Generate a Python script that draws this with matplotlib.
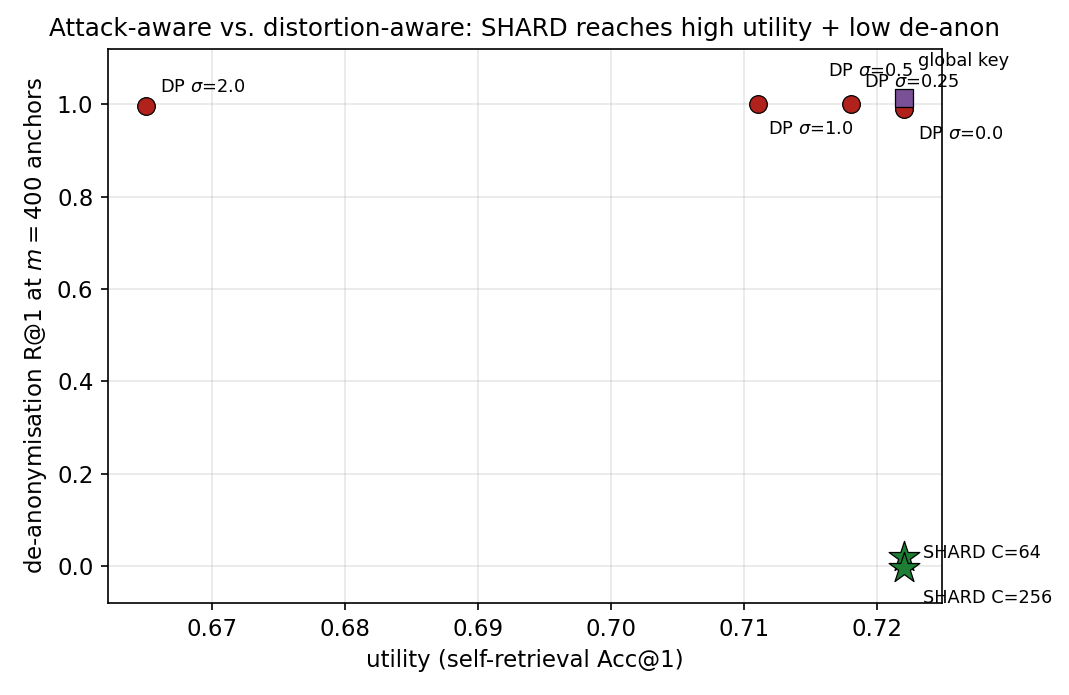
import matplotlib
matplotlib.use("Agg")
import matplotlib.pyplot as plt

# DP baselines
dp_labels = ["DP $\\sigma$=2.0", "DP $\\sigma$=1.0", "DP $\\sigma$=0.5", "DP $\\sigma$=0.25", "DP $\\sigma$=0.0"]
dp_util = [0.665, 0.711, 0.718, 0.722, 0.722]
dp_deanon = [0.996, 1.0, 1.0, 1.012, 0.989]
dp_offsets = [(7, 9), (5, -12), (-11, 16), (-19, 8), (7, -12)]

# global key
gk_label = ["global key"]
gk_util = [0.722]
gk_deanon = [1.013]
gk_offsets = [(7, 18)]

# SHARD
sh_labels = ["SHARD C=64", "SHARD C=256"]
sh_util = [0.722, 0.722]
sh_deanon = [0.020, -0.005]
sh_offsets = [(9, 2), (9, -14)]

fig = plt.figure(figsize=(1069 / 150, 695 / 150), dpi=150)
ax = fig.add_axes([0.101, 0.1324, 0.780, 0.7971])

ax.grid(True, alpha=0.3, zorder=0)
ax.scatter(dp_util, dp_deanon, s=72, c="#b2221c", edgecolors="black", linewidths=0.6, zorder=3, marker="o")
ax.scatter(gk_util, gk_deanon, s=72, c="#7a5096", edgecolors="black", linewidths=0.6, zorder=4, marker="s")
ax.scatter(sh_util, sh_deanon, s=240, c="#1e7f34", edgecolors="black", linewidths=0.6, zorder=4, marker="*")

fs = 8.5
for lab, x, y, off in zip(dp_labels, dp_util, dp_deanon, dp_offsets):
    ax.annotate(lab, (x, y), xytext=off, textcoords="offset points", fontsize=fs, ha="left", va="center", zorder=5)
for lab, x, y, off in zip(gk_label, gk_util, gk_deanon, gk_offsets):
    ax.annotate(lab, (x, y), xytext=off, textcoords="offset points", fontsize=fs, ha="left", va="center", zorder=5)
for lab, x, y, off in zip(sh_labels, sh_util, sh_deanon, sh_offsets):
    ax.annotate(lab, (x, y), xytext=off, textcoords="offset points", fontsize=fs, ha="left", va="center", zorder=5)

ax.set_xlim(0.66215, 0.72485)
ax.set_ylim(-0.08, 1.12)
ax.tick_params(labelsize=11)
ax.set_xlabel("utility (self-retrieval Acc@1)", fontsize=11)
ax.set_ylabel("de-anonymisation R@1 at $m=400$ anchors", fontsize=11)
ax.set_title("Attack-aware vs. distortion-aware: SHARD reaches high utility + low de-anon", fontsize=11.8)

fig.savefig("out.png", dpi=150)
